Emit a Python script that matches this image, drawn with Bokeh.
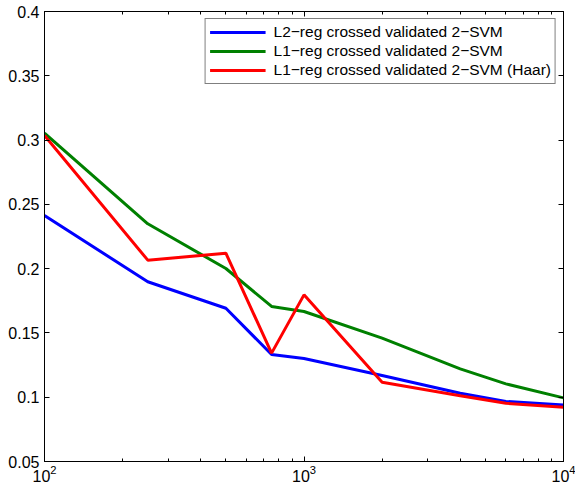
from bokeh.plotting import figure
from bokeh.models import (Range1d, LogAxis, LinearAxis, FixedTicker, LogTickFormatter,
                          NumeralTickFormatter, CustomJSTickFormatter, Legend, LegendItem)
from bokeh.embed import file_html
from bokeh.resources import INLINE

# ---- data ----
n_samples = [100, 250, 500, 750, 1000, 2000, 4000, 6000, 10000]
l2_cv = [0.2413, 0.1898, 0.1692, 0.1332, 0.1301, 0.1169, 0.1031, 0.0967, 0.0940]
l1_cv = [0.3054, 0.2349, 0.2001, 0.1706, 0.1667, 0.1459, 0.1221, 0.1104, 0.0995]
l1_cv_haar = [0.3036, 0.2066, 0.2120, 0.1343, 0.1796, 0.1117, 0.1011, 0.0953, 0.0922]

series_labels = ["L2\u2212reg crossed validated 2\u2212SVM",
                 "L1\u2212reg crossed validated 2\u2212SVM",
                 "L1\u2212reg crossed validated 2\u2212SVM (Haar)"]
series_colors = ["#0000ff", "#008000", "#ff0000"]

y_ticks = [0.05, 0.1, 0.15, 0.2, 0.25, 0.3, 0.35, 0.4]
x_major = [100, 1000, 10000]
x_minor = [m * 10 ** e for e in (2, 3) for m in range(2, 10)]

FONT = "Liberation Sans"

p = figure(width=575, height=485, output_backend="svg", toolbar_location=None,
           x_axis_type="log", x_range=Range1d(100, 10000), y_range=Range1d(0.05, 0.4),
           min_border_left=44, min_border_right=12, min_border_top=11, min_border_bottom=24)
p.grid.visible = False
p.outline_line_color = "black"
p.outline_line_width = 1
p.background_fill_color = "white"
p.border_fill_color = "white"

def style_axis(ax, minor=True):
    ax.axis_line_color = "black"
    ax.axis_line_width = 1
    ax.major_tick_in = 5
    ax.major_tick_out = 0
    ax.major_tick_line_color = "black"
    if minor:
        ax.minor_tick_in = 3
        ax.minor_tick_out = 0
        ax.minor_tick_line_color = "black"
    else:
        ax.minor_tick_line_color = None
    ax.major_label_text_font = FONT
    ax.major_label_text_font_size = "16px"
    ax.major_label_text_color = "black"

xa = p.xaxis[0]
xa.ticker = FixedTicker(ticks=x_major, minor_ticks=x_minor)
xa.formatter = LogTickFormatter()
xa.major_label_standoff = 3
style_axis(xa)

ya = p.yaxis[0]
ya.ticker = FixedTicker(ticks=y_ticks)
ya.formatter = NumeralTickFormatter(format="0.0[0]")
ya.major_label_standoff = 5
style_axis(ya, minor=False)

blank = CustomJSTickFormatter(code="return ''")
top = LogAxis(ticker=FixedTicker(ticks=x_major, minor_ticks=x_minor), formatter=blank,
              major_label_standoff=0)
style_axis(top)
p.add_layout(top, "above")
right = LinearAxis(ticker=FixedTicker(ticks=y_ticks), formatter=blank, major_label_standoff=0)
style_axis(right, minor=False)
p.add_layout(right, "right")

renderers = []
for ys, c in zip([l2_cv, l1_cv, l1_cv_haar], series_colors):
    r = p.line(n_samples, ys, line_color=c, line_width=3)
    renderers.append(r)

legend = Legend(items=[LegendItem(label=lab, renderers=[r]) for lab, r in zip(series_labels, renderers)],
                location="top_right")
legend.border_line_color = "black"
legend.border_line_width = 1
legend.background_fill_color = "white"
legend.background_fill_alpha = 1
legend.label_text_font = FONT
legend.label_text_font_size = "15.5px"
legend.label_text_color = "black"
legend.glyph_width = 56
legend.glyph_height = 18
legend.label_height = 18
legend.label_standoff = 8
legend.spacing = 1
legend.padding = 4
legend.margin = 7
p.add_layout(legend, "center")

open("out.html", "w").write(file_html(p, INLINE))
